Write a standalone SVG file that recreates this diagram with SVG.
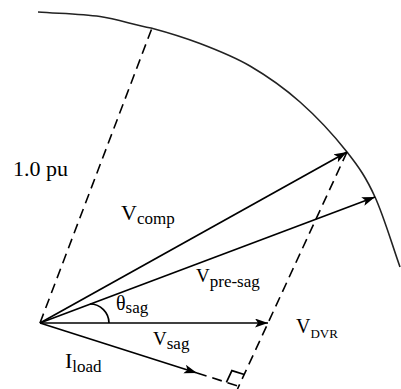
<svg xmlns="http://www.w3.org/2000/svg" width="401" height="389" viewBox="0 0 401 389">
<style>
.ln{stroke:#000;stroke-width:1.7;fill:none}
.ds{stroke:#000;stroke-width:1.6;fill:none;stroke-dasharray:10,6}
.arc{stroke:#222;stroke-width:1.6;fill:none}
.t{font-family:"Liberation Serif","Times New Roman",serif;fill:#000}
</style>
<defs>
<marker id="ah" markerUnits="userSpaceOnUse" markerWidth="14" markerHeight="10" refX="13" refY="4.5" orient="auto">
<path d="M0,0 L13,4.5 L0,9 L3,4.5 z" fill="#000"/>
</marker>
</defs>
<g id="circle">
<path class="arc" d="M38,12 C58.7,13.5 81.2,13.8 100,16.5 C118.8,19.2 134.3,25.3 151,28 C167.7,32.5 183.3,37.2 200,43.5 C216.5,49.8 233.3,56.25 250,66 C266.7,75.75 283.8,87.7 300,102 C316.2,116.3 334.5,136.2 347,152 C359.5,167.8 366.2,177.8 375,197 C383.8,216.2 391.7,243.7 400,267"/>
</g>
<g id="connectors">
<line class="ds" x1="40" y1="323" x2="152" y2="28"/>
<line class="ds" x1="347" y1="152" x2="237.5" y2="389"/>
<line class="ds" x1="197" y1="373" x2="238.8" y2="386.3"/>
<line class="ln" x1="40" y1="323" x2="347" y2="152" marker-end="url(#ah)"/>
<line class="ln" x1="40" y1="323" x2="375" y2="197" marker-end="url(#ah)"/>
<line class="ln" x1="40" y1="323" x2="268" y2="323" marker-end="url(#ah)"/>
<line class="ln" x1="40" y1="323" x2="197" y2="373" marker-end="url(#ah)"/>
<polyline class="ln" stroke-width="1.5" points="226.4,382.4 231.9,370.6 244.3,374.5"/>
<path class="ln" stroke-width="1.5" d="M90,304 A19,19 0 0 1 109,323"/>
</g>
<g id="labels">
<text class="t" x="13" y="176" font-size="22">1.0 pu</text>
<text class="t" x="121" y="220" font-size="22">V<tspan font-size="17" dy="4">comp</tspan></text>
<text class="t" x="196" y="282" font-size="19">V<tspan font-size="17" dy="5">pre-sag</tspan></text>
<text class="t" x="116" y="310" font-size="20">θ<tspan font-size="17" dy="3">sag</tspan></text>
<text class="t" x="153" y="345" font-size="19">V<tspan font-size="17" dy="4">sag</tspan></text>
<text class="t" x="296" y="333" font-size="20">V<tspan font-size="13" dy="5">DVR</tspan></text>
<text class="t" x="65" y="368" font-size="22">I<tspan font-size="17" dy="4">load</tspan></text>
</g>
</svg>
